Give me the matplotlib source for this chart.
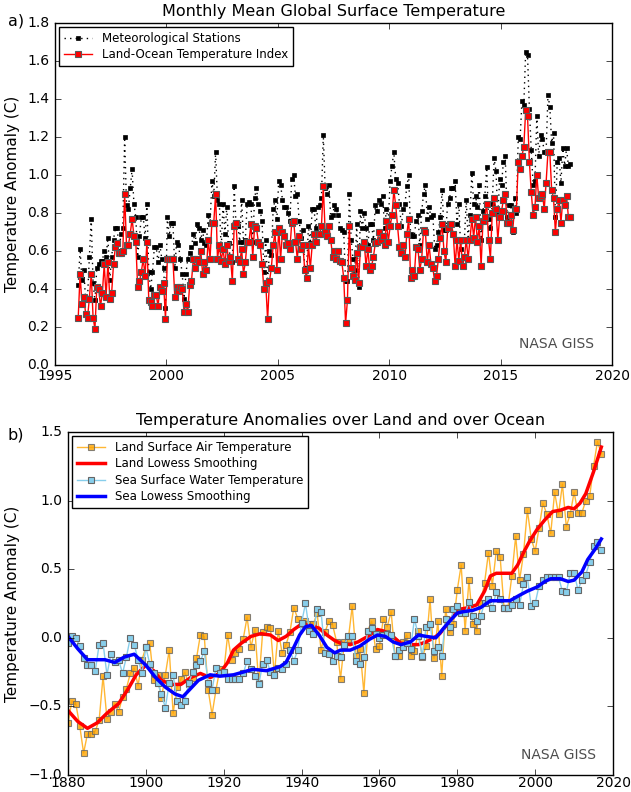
import numpy as np
import matplotlib.pyplot as plt

plt.style.use('classic')
plt.rcParams['figure.facecolor'] = 'white'
plt.rcParams['font.family'] = 'DejaVu Sans'
plt.rcParams['axes.formatter.useoffset'] = False

# a) monthly global means from Jan 1996
START_YEAR = 1996
met_stations = [
    0.42, 0.61, 0.45, 0.50, 0.34, 0.35, 0.57, 0.77, 0.43, 0.34, 0.51, 0.53,
    0.55, 0.55, 0.60, 0.57, 0.67, 0.45, 0.57, 0.66, 0.72, 0.72, 0.60, 0.69,
    0.72, 1.20, 0.84, 0.82, 0.93, 1.03, 0.85, 0.78, 0.57, 0.68, 0.78, 0.78,
    0.67, 0.85, 0.49, 0.40, 0.49, 0.62, 0.62, 0.54, 0.63, 0.56, 0.51, 0.30,
    0.78, 0.68, 0.75, 0.75, 0.51, 0.65, 0.63, 0.56, 0.48, 0.35, 0.48, 0.56,
    0.59, 0.62, 0.69, 0.64, 0.74, 0.72, 0.66, 0.71, 0.64, 0.63, 0.79, 0.74,
    0.97, 0.89, 1.12, 0.87, 0.85, 0.61, 0.85, 0.69, 0.83, 0.64, 0.55, 0.54,
    0.94, 0.74, 0.73, 0.65, 0.87, 0.65, 0.66, 0.85, 0.86, 0.85, 0.65, 0.88,
    0.93, 0.85, 0.81, 0.76, 0.49, 0.66, 0.44, 0.60, 0.58, 0.82, 0.87, 0.77,
    0.97, 0.95, 0.87, 0.83, 0.83, 0.80, 0.76, 0.98, 1.00, 0.89, 0.90, 0.76,
    0.67, 0.71, 0.51, 0.51, 0.73, 0.64, 0.82, 0.82, 0.72, 0.83, 0.84, 0.88,
    1.21, 0.93, 0.90, 0.95, 0.78, 0.79, 0.84, 0.82, 0.79, 0.72, 0.71, 0.70,
    0.44, 0.44, 0.90, 0.66, 0.56, 0.50, 0.74, 0.41, 0.81, 0.72, 0.80, 0.72,
    0.63, 0.74, 0.74, 0.66, 0.84, 0.81, 0.87, 0.85, 0.89, 0.72, 0.82, 0.75,
    0.97, 1.05, 1.12, 0.98, 0.96, 0.85, 0.73, 0.82, 0.85, 0.94, 1.00, 0.69,
    0.68, 0.68, 0.76, 0.79, 0.63, 0.81, 0.90, 0.95, 0.77, 0.83, 0.78, 0.79,
    0.61, 0.63, 0.70, 0.78, 0.92, 0.71, 0.71, 0.85, 0.88, 0.93, 0.93, 0.97,
    0.74, 0.85, 0.61, 0.66, 0.66, 0.87, 0.66, 0.79, 1.01, 0.85, 0.89, 0.83,
    0.95, 0.66, 0.81, 0.89, 1.04, 0.77, 0.72, 0.85, 1.09, 1.02, 0.79, 0.98,
    0.95, 1.07, 1.10, 0.78, 0.84, 0.84, 0.70, 0.88, 0.80, 1.20, 1.19, 1.39,
    1.37, 1.65, 1.63, 1.35, 1.13, 0.95, 0.97, 1.31, 1.10, 1.21, 1.19, 1.12,
    1.12, 1.42, 1.36, 1.17, 1.22, 0.78, 1.07, 1.09, 0.96, 1.14, 1.05, 1.14,
    1.05, 1.06,
]
loti = [
    0.25, 0.48, 0.32, 0.36, 0.27, 0.25, 0.35, 0.48, 0.25, 0.19, 0.41, 0.40,
    0.31, 0.38, 0.53, 0.36, 0.54, 0.35, 0.38, 0.53, 0.62, 0.64, 0.59, 0.59,
    0.60, 0.90, 0.63, 0.63, 0.69, 0.77, 0.68, 0.65, 0.41, 0.44, 0.49, 0.56,
    0.47, 0.65, 0.34, 0.33, 0.31, 0.37, 0.37, 0.31, 0.41, 0.39, 0.43, 0.24,
    0.56, 0.56, 0.56, 0.56, 0.36, 0.41, 0.39, 0.41, 0.40, 0.28, 0.32, 0.28,
    0.42, 0.44, 0.56, 0.51, 0.56, 0.54, 0.60, 0.48, 0.54, 0.50, 0.66, 0.56,
    0.75, 0.75, 0.90, 0.56, 0.63, 0.55, 0.61, 0.53, 0.63, 0.55, 0.57, 0.44,
    0.73, 0.75, 0.56, 0.54, 0.61, 0.48, 0.54, 0.65, 0.65, 0.74, 0.57, 0.73,
    0.72, 0.65, 0.63, 0.53, 0.40, 0.43, 0.24, 0.44, 0.51, 0.63, 0.70, 0.50,
    0.72, 0.56, 0.70, 0.68, 0.63, 0.64, 0.61, 0.75, 0.76, 0.65, 0.56, 0.68,
    0.61, 0.63, 0.50, 0.46, 0.63, 0.51, 0.63, 0.69, 0.65, 0.69, 0.69, 0.73,
    0.94, 0.70, 0.68, 0.73, 0.66, 0.57, 0.60, 0.56, 0.60, 0.55, 0.54, 0.46,
    0.22, 0.34, 0.73, 0.51, 0.47, 0.45, 0.59, 0.43, 0.62, 0.62, 0.65, 0.52,
    0.61, 0.50, 0.52, 0.57, 0.64, 0.65, 0.70, 0.66, 0.68, 0.63, 0.76, 0.65,
    0.73, 0.79, 0.92, 0.84, 0.73, 0.62, 0.59, 0.63, 0.57, 0.69, 0.77, 0.46,
    0.50, 0.47, 0.62, 0.61, 0.50, 0.56, 0.71, 0.70, 0.54, 0.63, 0.53, 0.51,
    0.44, 0.47, 0.56, 0.67, 0.74, 0.60, 0.54, 0.72, 0.74, 0.74, 0.69, 0.52,
    0.66, 0.55, 0.66, 0.52, 0.57, 0.66, 0.56, 0.66, 0.77, 0.67, 0.78, 0.65,
    0.73, 0.52, 0.76, 0.78, 0.85, 0.66, 0.56, 0.80, 0.88, 0.82, 0.66, 0.78,
    0.81, 0.87, 0.90, 0.75, 0.75, 0.79, 0.71, 0.82, 0.82, 1.07, 1.03, 1.10,
    1.15, 1.34, 1.31, 1.07, 0.91, 0.79, 0.83, 1.00, 0.88, 0.89, 0.90, 0.82,
    0.96, 1.12, 1.12, 0.92, 0.88, 0.70, 0.82, 0.87, 0.75, 0.87, 0.84, 0.89,
    0.78, 0.78,
]

# b) annual land / sea anomalies 1880-2017
FIRST_YEAR = 1880
land = [
    -0.62, -0.46, -0.48, -0.64, -0.84, -0.70, -0.70, -0.68, -0.60, -0.28,
    -0.59, -0.54, -0.48, -0.54, -0.43, -0.37, -0.26, -0.22, -0.35, -0.16,
    -0.07, -0.04, -0.31, -0.27, -0.44, -0.27, -0.09, -0.55, -0.36, -0.30,
    -0.25, -0.34, -0.29, -0.15, 0.02, 0.01, -0.38, -0.56, -0.38, -0.23,
    -0.25, 0.02, -0.16, -0.11, -0.08, -0.01, 0.15, -0.07, 0.06, -0.33,
    0.04, 0.08, 0.07, -0.27, 0.05, -0.11, -0.05, 0.04, 0.22, 0.14,
    0.10, 0.12, 0.10, 0.10, 0.18, -0.09, 0.04, 0.12, 0.09, -0.03,
    -0.30, -0.03, -0.01, 0.23, -0.13, -0.08, -0.40, 0.05, 0.12, -0.08,
    -0.06, 0.14, 0.08, 0.19, -0.13, -0.13, -0.03, 0.02, -0.13, -0.10,
    0.05, -0.14, -0.06, 0.28, -0.15, 0.12, -0.28, 0.21, 0.04, 0.10,
    0.35, 0.53, 0.05, 0.42, 0.10, 0.05, 0.25, 0.40, 0.62, 0.38,
    0.63, 0.59, 0.22, 0.22, 0.45, 0.74, 0.42, 0.61, 0.93, 0.72,
    0.63, 0.80, 0.98, 0.90, 0.76, 1.06, 0.90, 1.12, 0.81, 0.90,
    1.06, 0.91, 0.91, 1.00, 1.03, 1.25, 1.43, 1.34,
]
sea = [
    -0.04, 0.01, 0.00, -0.06, -0.15, -0.20, -0.20, -0.24, -0.05, -0.04,
    -0.27, -0.12, -0.18, -0.16, -0.26, -0.14, 0.00, -0.05, -0.16, -0.26,
    -0.07, -0.19, -0.26, -0.33, -0.41, -0.51, -0.33, -0.27, -0.46, -0.49,
    -0.46, -0.33, -0.25, -0.20, -0.17, -0.10, -0.33, -0.38, -0.22, -0.26,
    -0.25, -0.30, -0.30, -0.30, -0.30, -0.26, -0.17, -0.23, -0.28, -0.34,
    -0.19, -0.16, -0.25, -0.27, -0.22, -0.23, -0.19, -0.09, -0.17, -0.09,
    0.11, 0.25, 0.05, 0.03, 0.21, 0.19, -0.11, -0.12, -0.17, -0.13,
    -0.14, -0.05, 0.01, 0.01, -0.17, -0.19, -0.14, 0.05, 0.07, 0.03,
    0.00, 0.02, 0.03, 0.02, -0.13, -0.09, -0.07, -0.04, -0.08, 0.14,
    0.01, -0.13, 0.08, 0.10, -0.10, -0.07, -0.13, 0.14, 0.08, 0.21,
    0.23, 0.18, 0.18, 0.26, 0.16, 0.12, 0.16, 0.25, 0.28, 0.22,
    0.33, 0.28, 0.22, 0.22, 0.24, 0.28, 0.24, 0.39, 0.44, 0.23,
    0.25, 0.38, 0.42, 0.44, 0.44, 0.44, 0.44, 0.34, 0.33, 0.47,
    0.47, 0.35, 0.42, 0.46, 0.55, 0.67, 0.70, 0.64,
]

# lowess curves, sampled
land_smooth_yr = [1880, 1882.5, 1885, 1887.5, 1890, 1893, 1895.5, 1897.5, 1900, 1902,
                  1904, 1906.5, 1909, 1911.5, 1914, 1916.5, 1919, 1921, 1922.5, 1924.5,
                  1927, 1929.5, 1932, 1934, 1936, 1938, 1940, 1942, 1944.5, 1946.5,
                  1948.5, 1950, 1952.5, 1954.5, 1957, 1959.5, 1961, 1963, 1965.5, 1968,
                  1970, 1972, 1974, 1975.5, 1977.5, 1979, 1981, 1983, 1985, 1987,
                  1988.5, 1990, 1992, 1994, 1995.5, 1997, 1998.5, 2000.5, 2002.5, 2004.5,
                  2006.5, 2008.5, 2010, 2011.5, 2013, 2015, 2017]
land_smooth = [-0.53, -0.61, -0.66, -0.62, -0.55, -0.48, -0.37, -0.27, -0.20, -0.24,
               -0.31, -0.34, -0.34, -0.29, -0.26, -0.29, -0.26, -0.18, -0.09, -0.04,
               0.01, 0.03, 0.02, -0.02, 0.01, 0.06, 0.10, 0.09, 0.07, 0.02,
               -0.02, -0.04, -0.05, -0.03, 0.01, 0.06, 0.05, 0.02, -0.04, -0.05,
               -0.05, -0.03, 0.00, 0.03, 0.10, 0.16, 0.21, 0.22, 0.24, 0.34,
               0.45, 0.47, 0.47, 0.47, 0.53, 0.62, 0.70, 0.79, 0.86, 0.92,
               0.93, 0.95, 0.94, 0.98, 1.05, 1.21, 1.39]
sea_smooth_yr = [1880, 1882.5, 1885, 1889.5, 1892, 1894.5, 1897, 1900, 1902.5, 1905,
                 1907.5, 1909.5, 1911.5, 1913.5, 1916.5, 1919, 1922.5, 1925, 1927.5, 1931,
                 1934.5, 1936, 1938, 1939.5, 1941, 1942.5, 1944.5, 1946.5, 1948.5, 1950,
                 1952.5, 1955, 1957.5, 1959.5, 1961.5, 1963.5, 1965.5, 1968, 1970, 1972,
                 1974.5, 1976.5, 1978, 1980, 1981.5, 1984, 1986, 1988.5, 1990, 1993.5,
                 1996, 1998, 2000.5, 2002.5, 2004, 2006.5, 2008.5, 2010, 2012, 2013.5,
                 2015.5, 2017]
sea_smooth = [0.01, -0.08, -0.16, -0.16, -0.18, -0.14, -0.12, -0.20, -0.29, -0.36,
              -0.41, -0.43, -0.37, -0.31, -0.27, -0.28, -0.27, -0.25, -0.23, -0.24,
              -0.21, -0.18, -0.07, 0.02, 0.08, 0.09, 0.02, -0.07, -0.11, -0.09,
              -0.09, -0.06, -0.01, 0.02, 0.01, -0.03, -0.05, -0.03, 0.02, 0.01,
              0.00, 0.07, 0.12, 0.18, 0.19, 0.20, 0.22, 0.27, 0.27, 0.27,
              0.31, 0.34, 0.37, 0.41, 0.43, 0.43, 0.41, 0.42, 0.48, 0.57,
              0.65, 0.72]

t_month = START_YEAR + (np.arange(len(loti)) + 0.5) / 12
years = FIRST_YEAR + np.arange(len(land))

fig = plt.figure(figsize=(6.31, 7.92), dpi=100)

# ---- panel a ----
ax1 = fig.add_axes([0.0872, 0.5391, 0.8827, 0.4318])
ax1.plot(t_month, met_stations, ':', color='k', lw=1, marker='s', ms=3.5,
         mfc='k', mec='k', label='Meteorological Stations')
ax1.plot(t_month, loti, '-', color='red', lw=1, marker='s', ms=5,
         mfc='red', mec='0.35', mew=0.8, label='Land-Ocean Temperature Index')
ax1.set_xlim(1995, 2020)
ax1.set_ylim(0, 1.8)
ax1.set_xticks(np.arange(1995, 2021, 5))
ax1.set_yticks(np.arange(0, 1.81, 0.2))
ax1.xaxis.set_major_formatter(plt.FormatStrFormatter('%d'))
ax1.yaxis.set_major_formatter(plt.FormatStrFormatter('%.1f'))
ax1.tick_params(labelsize=10)
ax1.tick_params(axis='x', pad=3)
ax1.set_title('Monthly Mean Global Surface Temperature', fontsize=11.5)
ax1.set_ylabel('Temperature Anomaly (C)', fontsize=11)
ax1.yaxis.set_label_coords(-0.062, 0.5)
ax1.legend(loc='upper left', fontsize=8.5, numpoints=1, borderaxespad=0.35,
           handlelength=2.4, borderpad=0.4, labelspacing=0.3)
ax1.text(0.968, 0.04, 'NASA GISS', transform=ax1.transAxes, ha='right',
         va='bottom', fontsize=10, color='0.3')
fig.text(0.012, 0.973, 'a)', fontsize=11.5, va='center')

# ---- panel b ----
ax2 = fig.add_axes([0.1078, 0.0215, 0.8637, 0.4331])
ax2.plot(years, land, '-', color='orange', lw=1, alpha=0.8, marker='s', ms=5,
         mfc='orange', mec='0.4', mew=0.8, label='Land Surface Air Temperature')
ax2.plot(land_smooth_yr, land_smooth, '-', color='red', lw=2.5,
         label='Land Lowess Smoothing')
ax2.plot(years, sea, '-', color='skyblue', lw=1, marker='s', ms=5,
         mfc='skyblue', mec='0.4', mew=0.8, label='Sea Surface Water Temperature')
ax2.plot(sea_smooth_yr, sea_smooth, '-', color='blue', lw=2.5,
         label='Sea Lowess Smoothing')
ax2.set_xlim(1880, 2020)
ax2.set_ylim(-1.0, 1.5)
ax2.set_xticks(np.arange(1880, 2021, 20))
ax2.set_yticks(np.arange(-1.0, 1.51, 0.5))
ax2.xaxis.set_major_formatter(plt.FormatStrFormatter('%d'))
ax2.yaxis.set_major_formatter(plt.FuncFormatter(lambda v, p: f'{v:.1f}'.replace('-', '\u2212')))
ax2.tick_params(labelsize=10)
ax2.tick_params(axis='x', pad=1)
ax2.set_title('Temperature Anomalies over Land and over Ocean', fontsize=11.5)
ax2.set_ylabel('Temperature Anomaly (C)', fontsize=11)
ax2.yaxis.set_label_coords(-0.088, 0.5)
ax2.legend(loc='upper left', fontsize=8.5, numpoints=1, borderaxespad=0.35,
           handlelength=2.4, borderpad=0.4, labelspacing=0.3)
ax2.text(0.969, 0.038, 'NASA GISS', transform=ax2.transAxes, ha='right',
         va='bottom', fontsize=10, color='0.3')
fig.text(0.012, 0.451, 'b)', fontsize=11.5, va='center')

fig.savefig('out.png', dpi=100, facecolor='white')
